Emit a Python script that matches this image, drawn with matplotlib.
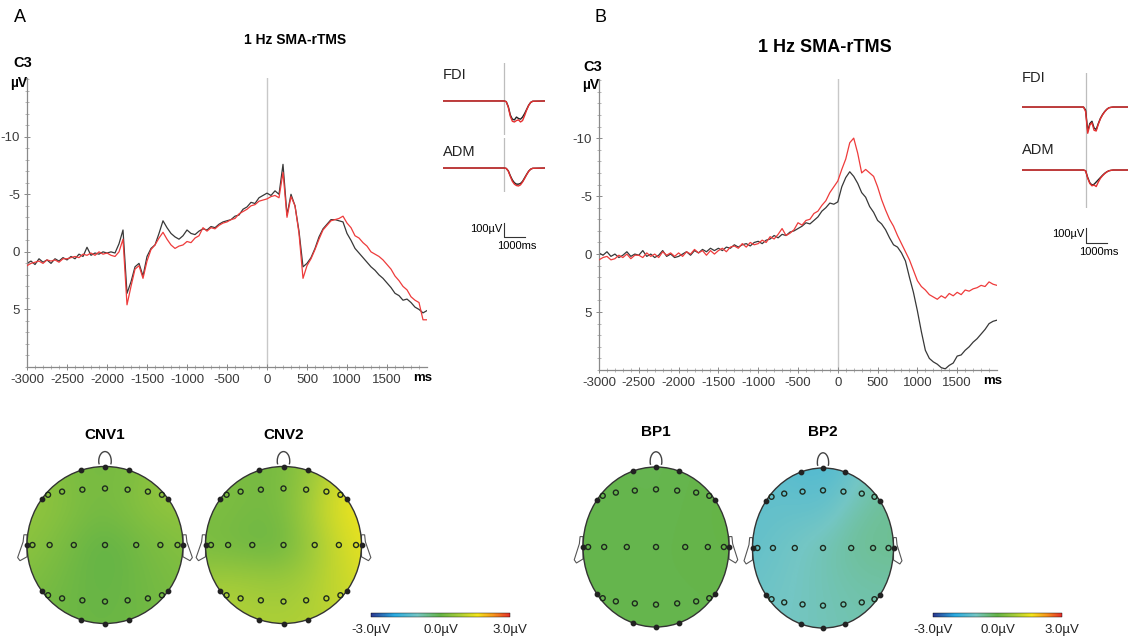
import numpy as np
import matplotlib
matplotlib.use("Agg")
import matplotlib.pyplot as plt
from matplotlib import patches, font_manager
from matplotlib.colors import LinearSegmentedColormap, Normalize
from matplotlib.cm import ScalarMappable

W, H = 1129, 642

# ---------------- data ----------------
t_ms = np.arange(-3000, 2001, 50)

# C3 averages, panel A (µV, negative up)
a_black = [1.0, 0.8, 1.1, 0.6, 0.9, 0.7, 1.0, 0.6, 0.8, 0.5,
           0.7, 0.4, 0.6, 0.2, 0.4, -0.4, 0.3, 0.1, 0.2, 0.0,
           0.1, 0.0, 0.1, -0.7, -1.9, 3.6, 2.6, 1.3, 1.0, 2.1,
           0.4, -0.3, -0.6, -1.6, -2.7, -2.1, -1.6, -1.3, -1.1, -1.4,
           -1.9, -1.6, -1.5, -1.8, -2.0, -1.9, -2.2, -2.1, -2.4, -2.6,
           -2.7, -2.8, -3.1, -3.2, -3.7, -3.9, -4.3, -4.2, -4.7, -4.9,
           -5.1, -4.9, -5.3, -5.0, -7.6, -3.2, -5.0, -4.0, -1.8, 1.3,
           1.0, 0.5, -0.3, -1.3, -2.0, -2.4, -2.8, -2.8, -2.7, -2.6,
           -1.6, -1.0, -0.3, 0.1, 0.5, 0.9, 1.3, 1.6, 2.0, 2.3,
           2.7, 3.1, 3.6, 3.8, 4.2, 4.1, 4.4, 4.8, 5.0, 5.3,
           5.1]
a_red = [1.2, 1.0, 0.9, 0.8, 1.0, 0.7, 0.8, 0.7, 0.9, 0.6,
         0.6, 0.5, 0.4, 0.5, 0.2, 0.3, 0.1, 0.3, 0.0, 0.2,
         0.1, 0.3, 0.4, 0.0, -1.1, 4.6, 3.0, 1.5, 1.2, 2.3,
         0.8, -0.2, -0.6, -1.2, -1.7, -1.1, -0.6, -0.3, -0.5, -0.6,
         -0.9, -0.8, -1.2, -1.4, -2.1, -1.8, -2.1, -2.0, -2.3, -2.5,
         -2.6, -2.8, -2.9, -3.3, -3.5, -3.7, -4.0, -4.1, -4.4, -4.5,
         -4.6, -4.8, -4.9, -4.7, -6.9, -3.0, -4.8, -4.0, -1.6, 2.3,
         1.2, 0.6, -0.2, -1.1, -1.9, -2.3, -2.7, -2.8, -2.9, -3.1,
         -2.5, -2.1, -1.4, -1.2, -0.8, -0.5, 0.0, 0.2, 0.4, 0.7,
         1.1, 1.5, 2.1, 2.5, 3.0, 3.3, 3.9, 4.2, 4.4, 5.9,
         5.9]

# C3 averages, panel B
b_black = [-0.1, 0.1, -0.2, 0.2, 0.0, 0.3, 0.1, -0.2, 0.2, 0.0,
           0.1, -0.3, 0.2, 0.0, 0.3, 0.1, -0.3, 0.2, 0.0, 0.3,
           0.2, 0.0, -0.2, 0.1, -0.3, -0.1, -0.4, -0.2, -0.5, -0.3,
           -0.5, -0.3, -0.6, -0.5, -0.8, -0.6, -0.8, -0.9, -0.7, -1.0,
           -1.1, -0.9, -1.2, -1.3, -1.6, -1.4, -1.7, -1.6, -1.9, -2.0,
           -2.2, -2.4, -2.7, -2.6, -2.9, -3.2, -3.7, -4.0, -4.4, -4.3,
           -4.5, -5.8, -6.6, -7.1, -6.7, -6.1, -5.3, -4.9, -4.1, -3.6,
           -2.9, -2.6, -2.1, -1.4, -0.8, -0.6, -0.1, 0.6, 2.0, 3.3,
           4.9, 6.7, 8.3, 9.0, 9.3, 9.5, 9.8, 9.9, 9.6, 9.4,
           8.8, 8.7, 8.3, 8.0, 7.6, 7.3, 6.9, 6.5, 6.0, 5.8,
           5.7]
b_red = [0.5, 0.3, 0.2, 0.5, 0.4, 0.1, 0.3, 0.0, 0.4, 0.1,
         0.1, 0.3, -0.1, 0.2, 0.0, 0.3, -0.2, 0.1, -0.1, 0.2,
         -0.1, 0.2, -0.2, 0.0, -0.4, -0.1, -0.3, 0.1, -0.3, 0.0,
         -0.3, -0.5, -0.2, -0.6, -0.7, -0.5, -0.9, -0.6, -1.0, -0.8,
         -0.9, -1.2, -1.0, -1.5, -1.3, -1.7, -2.2, -1.6, -1.8, -2.1,
         -2.7, -2.5, -2.9, -3.0, -3.5, -3.7, -4.2, -4.6, -5.3, -5.8,
         -6.3, -7.3, -8.2, -9.6, -10.0, -8.7, -7.0, -7.3, -7.0, -6.7,
         -5.8, -4.7, -3.8, -3.0, -2.4, -1.6, -0.9, -0.2, 0.5, 1.4,
         2.3, 2.8, 3.1, 3.5, 3.7, 3.9, 3.6, 3.8, 3.4, 3.6,
         3.3, 3.5, 3.1, 3.2, 3.0, 2.9, 2.7, 2.8, 2.4, 2.6,
         2.7]

x_ticks = [-3000, -2500, -2000, -1500, -1000, -500, 0, 500, 1000, 1500]
y_ticks = [-10, -5, 0, 5]

# EMG insets (µV)
t_emg = [-3000, -100, 0, 100, 200, 300, 400, 500, 600, 700, 800,
         900, 1000, 1100, 1200, 1300, 1400, 2000]
a_fdi_black = [0, 0, 0, -5, -40, -100, -130, -135, -115, -125, -130, -115, -90, -60, -30, -10, -2, 0]
a_fdi_red = [0, 0, 0, -5, -45, -110, -145, -150, -140, -135, -150, -140, -105, -65, -32, -10, -2, 0]
a_adm_black = [0, 0, 0, -3, -20, -55, -85, -105, -115, -115, -110, -95, -70, -45, -22, -8, -2, 0]
a_adm_red = [0, 0, 0, -3, -22, -60, -95, -115, -125, -128, -120, -100, -75, -48, -24, -8, -2, 0]
b_fdi_black = [0, 0, -20, -160, -110, -95, -140, -150, -110, -75, -50, -30, -15, -5, -2, 0, 0, 0]
b_fdi_red = [0, 0, -30, -175, -120, -105, -155, -160, -115, -78, -52, -32, -16, -5, -2, 0, 0, 0]
b_adm_black = [0, 0, -5, -50, -85, -100, -95, -80, -65, -50, -35, -22, -12, -5, -2, 0, 0, 0]
b_adm_red = [0, 0, -5, -55, -90, -105, -100, -110, -80, -55, -38, -24, -13, -5, -2, 0, 0, 0]

# electrode layout (unit head)
ring_angles = [90, 72, 36, 0, -36, -72, -90, -108, -144, 180, 144, 108]
f_x = [-0.73, -0.55, -0.29, 0.0, 0.29, 0.55, 0.73]
f_y = [0.64, 0.68, 0.705, 0.72, 0.705, 0.68, 0.64]
c_x = [-0.93, -0.71, -0.40, 0.0, 0.40, 0.71, 0.93]
p_x = f_x
p_y = [-v for v in f_y]

# map values (µV): ring, F row, C row, P row
cnv1_ring = [0.1, 0.3, 0.7, 0.5, 0.3, 0.2, 0.1, 0.2, 0.3, 0.7, 0.7, 0.2]
cnv1_f = [0.6, 0.4, 0.2, 0.1, 0.3, 0.5, 0.7]
cnv1_c = [0.5, 0.2, 0.0, -0.1, 0.0, 0.2, 0.4]
cnv1_p = [0.3, 0.1, -0.1, -0.1, 0.0, 0.1, 0.3]

cnv2_ring = [0.1, 0.6, 2.0, 1.9, 1.4, 1.1, 1.0, 1.1, 1.1, 0.4, 0.5, 0.2]
cnv2_f = [0.4, 0.2, 0.1, 0.1, 0.5, 1.1, 1.7]
cnv2_c = [0.2, 0.0, -0.1, 0.1, 0.3, 0.8, 1.6]
cnv2_p = [1.0, 0.8, 0.6, 0.5, 0.6, 0.9, 1.3]

bp1_ring = [-0.1, -0.05, 0.0, 0.0, -0.05, -0.05, -0.05, -0.05, -0.05, -0.05, -0.05, -0.1]
bp1_f = [-0.05, -0.05, -0.05, -0.1, -0.05, -0.05, 0.0]
bp1_c = [-0.05, -0.05, -0.05, -0.05, -0.05, -0.05, 0.0]
bp1_p = [-0.05, -0.05, -0.05, -0.05, -0.05, -0.05, -0.05]

bp2_ring = [-1.9, -1.6, -0.7, -0.7, -0.9, -0.9, -0.9, -1.0, -1.1, -1.4, -1.4, -1.6]
bp2_f = [-1.2, -1.1, -1.1, -1.2, -1.0, -0.6, -0.5]
bp2_c = [-1.2, -1.0, -0.9, -0.9, -0.8, -0.4, -0.6]
bp2_p = [-1.1, -1.0, -0.9, -0.9, -0.8, -0.7, -0.8]

# ---------------- style ----------------
names = {f.name for f in font_manager.fontManager.ttflist}
narrow = None
for cand in ['Liberation Sans Narrow', 'Arial Narrow']:
    if cand in names:
        narrow = cand
        break
if narrow:
    tick_font, tick_size = [narrow, 'DejaVu Sans'], 11
else:
    tick_font, tick_size = ['Liberation Sans', 'DejaVu Sans'], 9.5

plt.rcParams['font.family'] = ['Liberation Sans', 'DejaVu Sans']
plt.rcParams['axes.unicode_minus'] = False

cmap = LinearSegmentedColormap.from_list('topo', [
    (0.0, '#2b3990'), (1 / 6, '#29abe2'), (2 / 6, '#74c6c4'), (0.5, '#65b446'),
    (3.8 / 6, '#a6cd39'), (4.6 / 6, '#f4e61c'), (5.3 / 6, '#f7941d'), (1.0, '#e42f2b')])
norm = Normalize(-3, 3)

fig = plt.figure(figsize=(W / 100, H / 100), dpi=100)


def px(l, t, r, b):
    return [l / W, 1 - b / H, (r - l) / W, (b - t) / H]


def ftext(x, y, s, **kw):
    fig.text(x / W, 1 - y / H, s, **kw)


def draw_erp(box, black, red):
    ax = fig.add_axes(px(*box))
    ax.axvline(0, color='#c8c8c8', lw=1.0, zorder=1)
    ax.plot(t_ms, black, color='#383838', lw=0.9, zorder=2)
    ax.plot(t_ms, red, color='#ee3b3b', lw=0.9, zorder=3)
    ax.set_xlim(-3000, 2000)
    ax.set_ylim(10, -15.1)
    ax.set_xticks(x_ticks)
    ax.set_yticks(y_ticks)
    ax.set_xticks(np.arange(-3000, 2000, 100), minor=True)
    ax.set_yticks(np.arange(-15, 11, 1), minor=True)
    for s in ['top', 'right']:
        ax.spines[s].set_visible(False)
    for s in ['left', 'bottom']:
        ax.spines[s].set_color('#8a8a8a')
        ax.spines[s].set_linewidth(0.9)
    ax.tick_params(which='major', direction='inout', length=4, width=0.7,
                   color='#8a8a8a', labelcolor='#3a3a3a', labelsize=tick_size, pad=3)
    ax.tick_params(which='minor', direction='inout', length=2.5, width=0.5, color='#9a9a9a')
    for lab in ax.get_xticklabels() + ax.get_yticklabels():
        lab.set_family(tick_font)
    return ax


def draw_emg(box, ylim, black, red, label, label_y):
    ax = fig.add_axes(px(*box))
    ax.axvline(0, color='#bdbdbd', lw=0.9)
    ax.plot(t_emg, black, color='#222222', lw=1.0)
    ax.plot(t_emg, red, color='#e53030', lw=1.0)
    ax.set_xlim(-3000, 2000)
    ax.set_ylim(*ylim)
    ax.axis('off')
    ax.text(-3000, label_y, label, fontsize=10.5, ha='left', va='center', color='#222')
    return ax


def scale_bar(ax, y0):
    ax.plot([0, 0, 1000], [y0 + 100, y0, y0], color='#333', lw=0.8, clip_on=False)
    ax.text(-80, y0 + 60, '100µV', fontsize=8, ha='right', va='center', clip_on=False)
    ax.text(620, y0 - 60, '1000ms', fontsize=8, ha='center', va='center', clip_on=False)


def draw_topo(cx, cy, rx, ry, ring, fr, cr, pr, title, title_y):
    ax = fig.add_axes(px(cx - 1.3 * rx, cy - 1.3 * ry, cx + 1.3 * rx, cy + 1.15 * ry))
    ax.set_xlim(-1.3, 1.3)
    ax.set_ylim(-1.15, 1.3)
    ax.axis('off')
    ang = np.deg2rad(ring_angles)
    ex = np.concatenate([np.cos(ang), f_x, c_x, p_x])
    ey = np.concatenate([np.sin(ang), f_y, np.zeros(7), p_y])
    ev = np.concatenate([ring, fr, cr, pr])
    g = np.linspace(-1, 1, 161)
    gx, gy = np.meshgrid(g, g)
    d2 = (gx[..., None] - ex) ** 2 + (gy[..., None] - ey) ** 2
    w = np.exp(-d2 / (2 * 0.36 ** 2))
    z = (w * ev).sum(-1) / w.sum(-1)
    im = ax.imshow(z, extent=[-1, 1, -1, 1], origin='lower', cmap=cmap, norm=norm,
                   interpolation='bilinear', aspect='auto', zorder=1)
    head = patches.Circle((0, 0), 1.0, fill=False, ec='#333333', lw=1.0, zorder=3)
    ax.add_patch(head)
    im.set_clip_path(head)
    ax.add_patch(patches.Arc((0, 1.07), 0.16, 0.24, theta1=-30, theta2=210,
                             color='#444444', lw=1.0, zorder=3))
    for sgn in (-1, 1):
        ear = [(sgn * 1.0, 0.13), (sgn * 1.04, 0.13), (sgn * 1.05, 0.04),
               (sgn * 1.12, -0.16), (sgn * 1.09, -0.2), (sgn * 1.0, -0.15)]
        ax.add_patch(patches.Polygon(ear, closed=True, fc='white', ec='#555555',
                                     lw=0.8, zorder=2))
    ax.scatter(np.cos(ang), np.sin(ang), s=10, color='#222222', zorder=4)
    ax.scatter(np.concatenate([f_x, c_x, p_x]), np.concatenate([f_y, np.zeros(7), p_y]),
               s=13, facecolor='none', edgecolor='#1e2a1e', lw=1.0, zorder=4)
    ftext(cx, title_y, title, fontsize=11, fontweight='bold', ha='center', va='center')
    return ax


def draw_cbar(l, r):
    cax = fig.add_axes(px(l, 613, r, 617))
    cb = fig.colorbar(ScalarMappable(norm=norm, cmap=cmap), cax=cax, orientation='horizontal')
    cb.set_ticks([-3, 0, 3])
    cb.set_ticklabels(['-3.0µV', '0.0µV', '3.0µV'])
    cb.outline.set_linewidth(0.3)
    cax.tick_params(length=0, pad=5, labelsize=9.5, labelcolor='#222')


# ---------------- panel A ----------------
draw_erp((27, 78, 427, 367), a_black, a_red)
ftext(20, 18, 'A', fontsize=13, ha='center', va='center')
ftext(295, 40, '1 Hz SMA-rTMS', fontsize=10, fontweight='bold', ha='center', va='center')
ftext(23, 63, 'C3', fontsize=10.5, fontweight='bold', ha='center', va='center')
ftext(27, 83, 'µV', fontsize=10, fontweight='bold', ha='right', va='center')
ftext(423, 378, 'ms', fontsize=9.5, fontweight='bold', ha='center', va='center')

draw_emg((443, 63, 545, 135), (-243, 271), a_fdi_black, a_fdi_red, 'FDI', 186)
ax_adm_a = draw_emg((443, 138, 545, 192), (-171, 214), a_adm_black, a_adm_red, 'ADM', 114)
scale_bar(ax_adm_a, -493)

draw_topo(105, 545, 78, 78.5, cnv1_ring, cnv1_f, cnv1_c, cnv1_p, 'CNV1', 435)
draw_topo(283.5, 545, 78, 78.5, cnv2_ring, cnv2_f, cnv2_c, cnv2_p, 'CNV2', 435)
draw_cbar(371, 510)

# ---------------- panel B ----------------
draw_erp((599, 79, 997, 370), b_black, b_red)
ftext(600, 18, 'B', fontsize=13, ha='center', va='center')
ftext(825, 47, '1 Hz SMA-rTMS', fontsize=13, fontweight='bold', ha='center', va='center')
ftext(593, 67, 'C3', fontsize=10.5, fontweight='bold', ha='center', va='center')
ftext(599, 85, 'µV', fontsize=10, fontweight='bold', ha='right', va='center')
ftext(993, 381, 'ms', fontsize=9.5, fontweight='bold', ha='center', va='center')

draw_emg((1022, 73, 1128, 140), (-220, 227), b_fdi_black, b_fdi_red, 'FDI', 193)
ax_adm_b = draw_emg((1022, 140, 1128, 208), (-253, 200), b_adm_black, b_adm_red, 'ADM', 133)
scale_bar(ax_adm_b, -487)

draw_topo(656, 547, 73, 80, bp1_ring, bp1_f, bp1_c, bp1_p, 'BP1', 432)
draw_topo(823, 548, 70.5, 80, bp2_ring, bp2_f, bp2_c, bp2_p, 'BP2', 432)
draw_cbar(933, 1062)

fig.savefig('out.png', dpi=100)
